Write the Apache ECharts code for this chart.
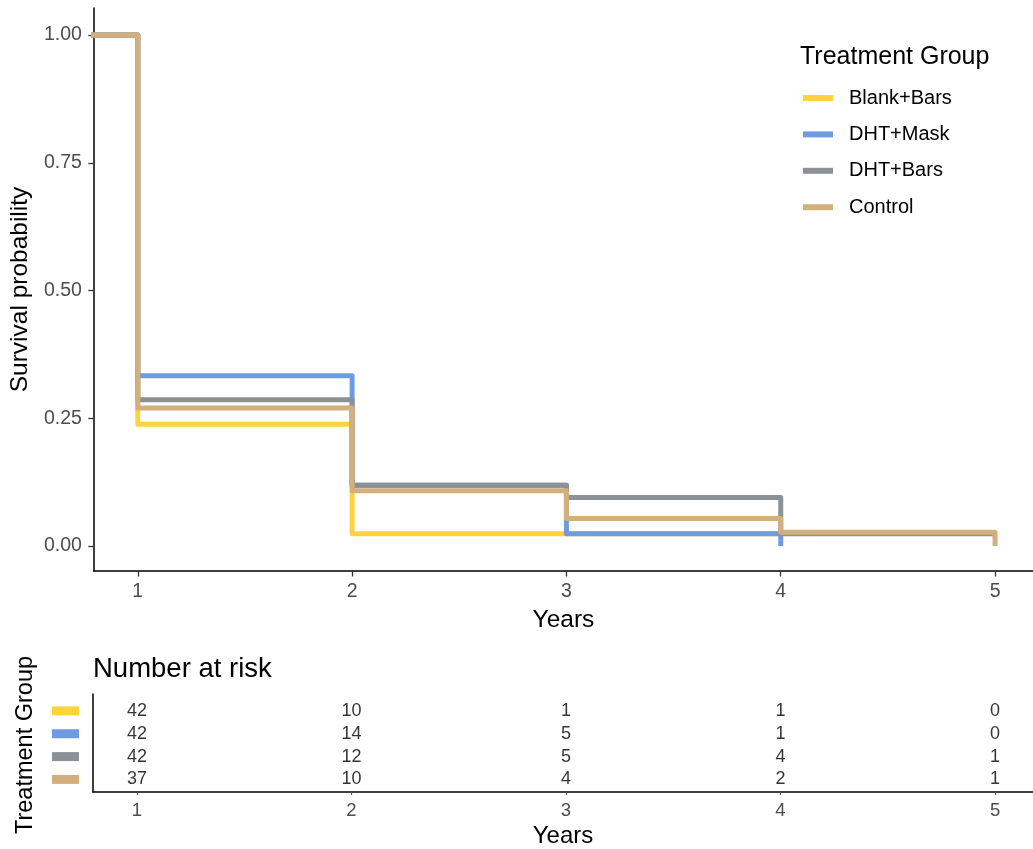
<!DOCTYPE html>
<html>
<head>
<meta charset="utf-8">
<script src="https://cdn.jsdelivr.net/npm/echarts@6/dist/echarts.min.js"></script>
<style>
html,body{margin:0;padding:0;background:#fff;}
#c{width:1033px;height:849px;}
</style>
</head>
<body>
<div id="c"></div>
<script>
// ---- data ----
const groups = ['Blank+Bars', 'DHT+Mask', 'DHT+Bars', 'Control'];
const colors = ['#FFD43B', '#6F9BE0', '#8B9197', '#D3AF7E'];
const timesBlank = [0, 1, 2, 4];
const survBlank  = [1, 0.238, 0.024, 0.024];
const timesMask  = [0, 1, 2, 3, 4];
const survMask   = [1, 0.333, 0.119, 0.024, 0];
const timesBars  = [0, 1, 2, 3, 4, 5];
const survBars   = [1, 0.286, 0.119, 0.095, 0.024, 0.024];
const timesCtrl  = [0, 1, 2, 3, 4, 5];
const survCtrl   = [1, 0.270, 0.108, 0.054, 0.027, 0];
const riskTimes = [1, 2, 3, 4, 5];
const riskBlank = [42, 10, 1, 1, 0];
const riskMask  = [42, 14, 5, 1, 0];
const riskBars  = [42, 12, 5, 4, 1];
const riskCtrl  = [37, 10, 4, 2, 1];
const xTicks = [1, 2, 3, 4, 5];
const yTicks = [0, 0.25, 0.5, 0.75, 1];

const curves = [[timesBlank, survBlank], [timesMask, survMask], [timesBars, survBars], [timesCtrl, survCtrl]];
const risks = [riskBlank, riskMask, riskBars, riskCtrl];

const FONT = 'Liberation Sans, Arial, sans-serif';
const XMIN = 0.795, XMAX = 5.177;

const series = [];
curves.forEach((c, i) => {
  series.push({
    name: groups[i], type: 'line', step: 'end', xAxisIndex: 0, yAxisIndex: 0,
    data: c[0].map((t, k) => [t, c[1][k]]),
    showSymbol: false, symbol: 'none', clip: true,
    lineStyle: { color: colors[i], width: 5, join: 'round', cap: 'butt' },
    itemStyle: { color: colors[i] },
    emphasis: { disabled: true }, animation: false, z: 2 + i
  });
});
risks.forEach((r, i) => {
  series.push({
    name: 'risk' + i, type: 'scatter', xAxisIndex: 1, yAxisIndex: 1,
    data: riskTimes.map((t, k) => [t, 4 - i, r[k]]),
    symbolSize: 1, itemStyle: { color: 'rgba(0,0,0,0)' },
    label: { show: true, position: 'inside', formatter: p => String(p.value[2]),
      color: '#000', fontSize: 18, fontFamily: FONT },
    emphasis: { disabled: true }, animation: false
  });
});

const rich = {};
groups.forEach((g, i) => { rich['s' + i] = { backgroundColor: colors[i], width: 27, height: 9 }; });

const axisLine = { show: true, onZero: false, lineStyle: { color: '#000', width: 1.5 } };
const tickTop = { show: true, length: 5.5, lineStyle: { color: '#333', width: 1.3 } };
const tickRisk = { show: true, length: 3, lineStyle: { color: '#555', width: 1.2 } };

const option = {
  backgroundColor: '#fff',
  animation: false,
  title: [
    { text: 'Treatment Group', left: 800, top: 44.5, padding: 0, textStyle: { fontFamily: FONT, fontSize: 25, fontWeight: 'normal', color: '#000' } },
    { text: 'Number at risk', left: 93, top: 655, padding: 0, textStyle: { fontFamily: FONT, fontSize: 27.5, fontWeight: 'normal', color: '#000' } }
  ],
  legend: {
    data: groups, orient: 'vertical', left: 803, top: 87, padding: 0,
    icon: 'rect', itemWidth: 30, itemHeight: 6, itemGap: 14.4,
    textStyle: { fontFamily: FONT, fontSize: 20, color: '#000', lineHeight: 22, padding: [0, 0, 0, 11] },
    selectedMode: false
  },
  graphic: [{
    type: 'text', x: 26, y: 745, rotation: Math.PI / 2,
    style: { text: 'Treatment Group', font: '23.5px ' + FONT, fill: '#000', align: 'center', verticalAlign: 'middle' }
  }],
  grid: [
    { left: 93, right: 0, top: 8, height: 563 },
    { left: 93, right: 0, top: 694, height: 100 }
  ],
  xAxis: [
    { type: 'value', gridIndex: 0, min: XMIN, max: XMAX,
      axisLine: axisLine, axisTick: Object.assign({ customValues: xTicks }, tickTop), splitLine: { show: false },
      axisLabel: { customValues: xTicks, color: '#4D4D4D', fontSize: 19.5, fontFamily: FONT, margin: 10.5, formatter: v => String(v) },
      name: 'Years', nameLocation: 'middle', nameGap: 37,
      nameTextStyle: { fontFamily: FONT, fontSize: 24.5, color: '#000' } },
    { type: 'value', gridIndex: 1, min: XMIN, max: XMAX,
      axisLine: axisLine, axisTick: Object.assign({ customValues: xTicks }, tickRisk), splitLine: { show: false },
      axisLabel: { customValues: xTicks, color: '#4D4D4D', fontSize: 18.5, fontFamily: FONT, margin: 9.5, formatter: v => String(v) },
      name: 'Years', nameLocation: 'middle', nameGap: 32,
      nameTextStyle: { fontFamily: FONT, fontSize: 24, color: '#000' } }
  ],
  yAxis: [
    { type: 'value', gridIndex: 0, min: -0.049, max: 1.053,
      axisLine: axisLine, axisTick: Object.assign({ customValues: yTicks }, tickTop), splitLine: { show: false },
      axisLabel: { customValues: yTicks, color: '#4D4D4D', fontSize: 19.5, fontFamily: FONT, margin: 12, formatter: v => v.toFixed(2) },
      name: 'Survival probability', nameLocation: 'middle', nameGap: 51,
      nameTextStyle: { fontFamily: FONT, fontSize: 24.5, color: '#000' } },
    { type: 'value', gridIndex: 1, min: 0.45, max: 4.74,
      axisLine: axisLine, axisTick: { show: false }, splitLine: { show: false },
      axisLabel: { customValues: [1, 2, 3, 4], margin: 14, formatter: v => '{s' + (4 - v) + '|}', rich: rich } }
  ],
  series: series
};
const chart = echarts.init(document.getElementById('c'), null, { renderer: 'canvas' });
chart.setOption(option);
</script>
</body>
</html>
